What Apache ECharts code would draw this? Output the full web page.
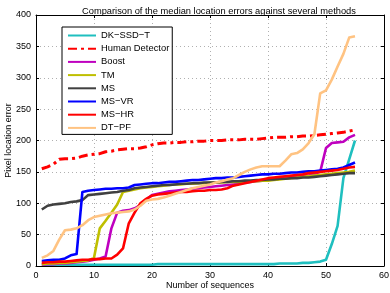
<!DOCTYPE html>
<html><head><meta charset="utf-8">
<script src="https://cdn.jsdelivr.net/npm/echarts@6/dist/echarts.min.js"></script>
<style>html,body{margin:0;padding:0;background:#fff}#c{width:390px;height:293px}</style>
</head><body><div id="c"></div>
<script>
const xs = Array.from({length:55},(_, i)=>i+1);
const dkssdt = [2,2,2,2,2,2,2,2,2,2,2,2,2,2,2,2,2,2,2,2,3,3,3,3,3,3,3,3,3,3,3,3,3,3,3,3,3,3,3,3,3,4,4,4,4,5,5,6,7,10,35,64,140,170,200];
const human = [155,158,162,170,171,171,172,175,177,178,179,182,183,185,186,187,187,188,190,193,195,196,196,197,197,198,198,199,199,200,200,200,201,201,201,202,202,202,203,204,205,205,205,206,206,207,207,208,209,210,211,212,213,215,217];
const boost = [2,3,3,4,4,5,6,7,8,10,12,15,60,85,88,89,92,97,106,113,115,117,119,120,121,122,123,124,125,126,127,128,129,130,131,133,134,135,136,137,138,139,140,141,142,143,144,147,150,188,196,197,198,205,209];
const tm = [3,4,4,5,5,6,7,8,9,13,60,72,85,98,118,120,122,124,125,126,127,128,129,130,130,131,131,132,132,133,133,133,134,134,134,135,135,135,136,136,137,138,139,140,141,142,143,144,145,146,147,148,149,150,152];
const ms = [90,96,98,99,100,102,103,105,113,114,115,116,117,118,120,121,124,125,126,127,128,129,129,130,131,131,132,132,133,133,133,134,134,135,135,136,136,137,137,138,138,139,139,140,140,141,141,142,143,144,145,146,147,148,148];
const msvr = [8,9,10,10,12,17,19,118,120,121,122,123,123,124,124,125,129,130,131,132,132,133,134,134,135,136,137,137,138,139,140,140,141,141,142,143,144,145,146,146,147,147,148,149,149,150,151,151,152,153,154,155,157,161,165];
const mshr = [5,6,6,7,7,8,9,10,10,11,11,12,12,18,28,68,85,100,107,112,114,115,116,117,118,118,119,120,120,121,121,122,124,128,130,132,134,136,138,140,141,142,143,144,145,146,148,149,150,151,152,153,155,157,158];
const dtpf = [13,17,24,42,57,58,60,65,73,78,80,82,84,85,86,87,90,96,104,106,107,109,112,115,118,121,124,126,128,130,133,135,138,140,145,150,154,157,159,159,159,159,168,178,180,186,196,210,275,280,297,318,338,364,366];

const names = ['DK\u2212SSD\u2212T','Human Detector','Boost','TM','MS','MS\u2212VR','MS\u2212HR','DT\u2212PF'];
const datas = [dkssdt,human,boost,tm,ms,msvr,mshr,dtpf];
const colors = ['#1fbfbf','#ff0000','#bf00bf','#bfbf00','#404040','#0000ff','#ff0000','#ffc382'];

const FONT = 'Liberation Sans';
const series = names.map((n,i)=>({
  name:n, type:'line', symbol:'none', showSymbol:false, z: 2+i,
  data: xs.map((x,j)=>[x, datas[i][j]]),
  lineStyle:{color:colors[i], width: i===1?3:2.6, type: i===1?[9,4,3,4]:'solid', cap:'butt', join:'round'},
  itemStyle:{color:colors[i]},
  emphasis:{disabled:true}, animation:false
}));

const chart = echarts.init(document.getElementById('c'), null, {renderer:'canvas'});
const gridLine = {show:true, lineStyle:{color:'#b0b0b0', type:[1,3], width:1}};
chart.setOption({
  backgroundColor:'#fff',
  animation:false,
  title:{text:'Comparison of the median location errors against several methods', left:77, top:2,
    textStyle:{fontFamily:FONT, fontSize:9.3, fontWeight:'normal', color:'#000'}},
  grid:{left:36, right:6, top:15, bottom:27, containLabel:false, outerBoundsMode:'none'},
  legend:{orient:'vertical', left:62, top:27, padding:[4,3,2,5], itemGap:4.2, itemWidth:28, itemHeight:9,
    borderColor:'#000', borderWidth:1, backgroundColor:'#fff', borderRadius:0,
    itemStyle:{opacity:0},
    textStyle:{fontFamily:FONT, fontSize:9.4, color:'#000'}, data:names},
  xAxis:[{type:'value', min:0, max:60, interval:10, name:'Number of sequences', nameLocation:'middle', nameGap:15,
    nameMoveOverlap:false,
    nameTextStyle:{fontFamily:FONT, fontSize:9, color:'#000'},
    axisLine:{show:true, onZero:false, lineStyle:{color:'#000', width:1}},
    axisTick:{show:true, inside:true, length:3, lineStyle:{color:'#000'}},
    axisLabel:{fontFamily:FONT, fontSize:9, color:'#000', margin:5},
    splitLine:gridLine},
    {type:'value', position:'top', min:0, max:60, interval:10,
    axisLine:{show:true, onZero:false, lineStyle:{color:'#000', width:1}},
    axisTick:{show:true, inside:true, length:3, lineStyle:{color:'#000'}},
    axisLabel:{show:false}, splitLine:{show:false}}],
  yAxis:[{type:'value', min:0, max:400, interval:50, name:'Pixel location error', nameLocation:'middle', nameGap:23,
    nameMoveOverlap:false,
    nameTextStyle:{fontFamily:FONT, fontSize:9, color:'#000'},
    axisLine:{show:true, onZero:false, lineStyle:{color:'#000', width:1}},
    axisTick:{show:true, inside:true, length:3, lineStyle:{color:'#000'}},
    axisLabel:{fontFamily:FONT, fontSize:9, color:'#000', margin:5},
    splitLine:gridLine},
    {type:'value', position:'right', min:0, max:400, interval:50,
    axisLine:{show:true, onZero:false, lineStyle:{color:'#000', width:1}},
    axisTick:{show:true, inside:true, length:3, lineStyle:{color:'#000'}},
    axisLabel:{show:false}, splitLine:{show:false}}],
  series: series
});
</script></body></html>
